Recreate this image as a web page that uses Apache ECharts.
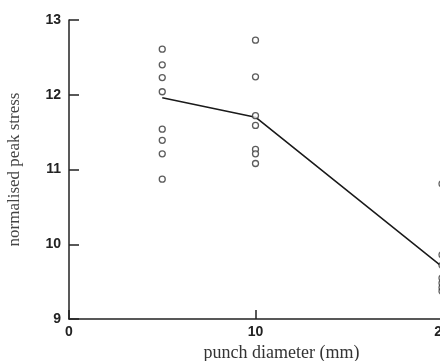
<!DOCTYPE html>
<html>
<head>
<meta charset="utf-8">
<script src="https://cdn.jsdelivr.net/npm/echarts@6/dist/echarts.min.js"></script>
<style>
  html, body { margin: 0; padding: 0; background: #fff; }
  #chart { width: 440px; height: 361px; }
</style>
</head>
<body>
<div id="chart"></div>
<script>
// punch diameter (mm) and measured normalised peak stress
var diameters = [5, 10, 20];
var stress5 = [12.61, 12.4, 12.23, 12.04, 11.54, 11.39, 11.21, 10.87];
var stress10 = [12.73, 12.24, 11.72, 11.59, 11.27, 11.21, 11.08];
var stress20 = [10.81, 9.86, 9.72, 9.55, 9.48, 9.42, 9.37];
var meanLine = [11.96, 11.7, 9.7];

var points = [];
stress5.forEach(function (v) { points.push([diameters[0], v]); });
stress10.forEach(function (v) { points.push([diameters[1], v]); });
stress20.forEach(function (v) { points.push([diameters[2], v]); });

var myChart = echarts.init(document.getElementById("chart"));
var option = {
  animation: false,
  grid: { left: 69, right: -2, top: 20, bottom: 42, outerBoundsMode: "none", containLabel: false },
  xAxis: {
    type: "value",
    min: 0,
    max: 20,
    interval: 10,
    name: "punch diameter (mm)",
    nameLocation: "middle",
    nameGap: 24,
    nameTextStyle: { fontFamily: "Liberation Serif", fontSize: 18, color: "#333", padding: [0, 0, 0, 52] },
    axisLine: { lineStyle: { color: "#222", width: 1.5 } },
    axisTick: { inside: true, length: 9, lineStyle: { color: "#222", width: 1.5 } },
    axisLabel: { margin: 6, fontFamily: "Liberation Sans", fontWeight: "bold", fontSize: 14, color: "#222" },
    splitLine: { show: false }
  },
  yAxis: {
    type: "value",
    min: 9,
    max: 13,
    interval: 1,
    name: "normalised peak stress",
    nameLocation: "middle",
    nameGap: 46,
    nameTextStyle: { fontFamily: "Liberation Serif", fontSize: 17, color: "#444" },
    axisLine: { show: true, lineStyle: { color: "#222", width: 1.5 } },
    axisTick: { show: true, inside: true, length: 10, lineStyle: { color: "#222", width: 1.5 } },
    axisLabel: { margin: 8, fontFamily: "Liberation Sans", fontWeight: "bold", fontSize: 14, color: "#222" },
    splitLine: { show: false }
  },
  series: [
    {
      type: "line",
      data: diameters.map(function (d, i) { return [d, meanLine[i]]; }),
      showSymbol: false,
      lineStyle: { color: "#1a1a1a", width: 1.6 },
      z: 3
    },
    {
      type: "scatter",
      data: points,
      symbol: "circle",
      symbolSize: 6,
      itemStyle: { color: "#fff", borderColor: "#333", borderWidth: 1.3 },
      z: 4
    }
  ]
};
myChart.setOption(option);
</script>
</body>
</html>
